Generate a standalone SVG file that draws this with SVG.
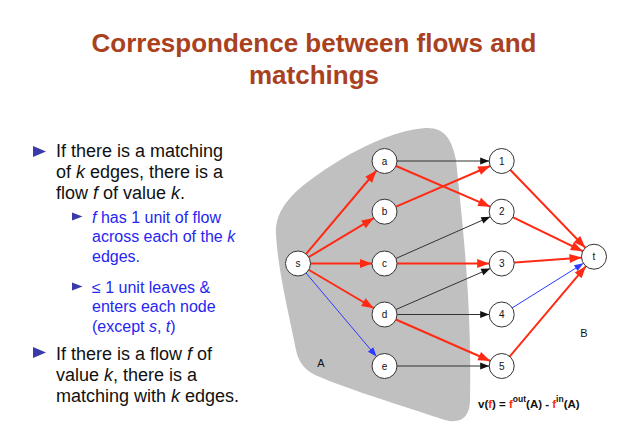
<svg xmlns="http://www.w3.org/2000/svg" width="641" height="448" viewBox="0 0 641 448">
<defs>
<style>
text{font-family:"Liberation Sans",Arial,sans-serif}
.title{font-size:26px;font-weight:bold;fill:#a9411f;text-anchor:middle}
.main{font-size:18px;fill:#111}
.sub{font-size:16px;fill:#2626f0}
.bul{fill:#3a3aa8}
.node circle{fill:#fff;stroke:#333;stroke-width:1}
.node text{font-size:10px;text-anchor:middle;fill:#111}
.red{stroke:#ff2a14;stroke-width:2;fill:none;marker-end:url(#mr)}
.blk{stroke:#333;stroke-width:1;fill:none;marker-end:url(#mk)}
.blu{stroke:#2a3aff;stroke-width:1;fill:none;marker-end:url(#mb)}
.lbl{font-size:11px;fill:#111;text-anchor:middle}
.fm{font-size:11.5px;font-weight:bold;fill:#111}
.rf{fill:#ff2a14}
</style>
<marker id="mr" markerUnits="userSpaceOnUse" markerWidth="13" markerHeight="10" refX="24.5" refY="4.5" orient="auto" overflow="visible"><path d="M0,0 L12,4.5 L0,9 z" fill="#ff2a14"/></marker>
<marker id="mk" markerUnits="userSpaceOnUse" markerWidth="10" markerHeight="8" refX="21.5" refY="3.5" orient="auto" overflow="visible"><path d="M0,0 L9,3.5 L0,7 z" fill="#111"/></marker>
<marker id="mb" markerUnits="userSpaceOnUse" markerWidth="10" markerHeight="8" refX="21.5" refY="3.5" orient="auto" overflow="visible"><path d="M0,0 L9,3.5 L0,7 z" fill="#2a3aff"/></marker>
</defs>
<rect width="641" height="448" fill="#fff"/>
<g id="title">
<text class="title" x="314" y="52">Correspondence between flows and</text>
<text class="title" x="314" y="83.5">matchings</text>
</g>
<g id="bullets">
<path class="bul" d="M33,146 L46,151.5 L33,157 z"/>
<text class="main" x="56" y="157">If there is a matching</text>
<text class="main" x="56" y="178">of <tspan font-style="italic">k</tspan> edges, there is a</text>
<text class="main" x="56" y="199">flow <tspan font-style="italic">f</tspan> of value <tspan font-style="italic">k</tspan>.</text>
<path class="bul" d="M72,212.5 L82.5,216.5 L72,220.5 z"/>
<text class="sub" x="92" y="223"><tspan font-style="italic">f</tspan> has 1 unit of flow</text>
<text class="sub" x="92" y="242">across each of the <tspan font-style="italic">k</tspan></text>
<text class="sub" x="92" y="262">edges.</text>
<path class="bul" d="M72,282.5 L82.5,286.5 L72,290.5 z"/>
<text class="sub" x="92" y="293">≤ 1 unit leaves &amp;</text>
<text class="sub" x="92" y="312">enters each node</text>
<text class="sub" x="92" y="332">(except <tspan font-style="italic">s</tspan>, <tspan font-style="italic">t</tspan>)</text>
<path class="bul" d="M33,347 L46,352.5 L33,358 z"/>
<text class="main" x="56" y="360">If there is a flow <tspan font-style="italic">f</tspan> of</text>
<text class="main" x="56" y="381">value <tspan font-style="italic">k</tspan>, there is a</text>
<text class="main" x="56" y="402">matching with <tspan font-style="italic">k</tspan> edges.</text>
</g>
<g id="regionA">
<path d="M276,235 C274,205 300,185 340,160 C370,142 400,130 425,128 C445,127 452,140 456,160 C462,220 472,300 470,400 C470,418 460,424 445,420 C400,405 350,390 315,375 C303,369 298,360 296,350 C288,310 278,270 276,235 Z" fill="#c0c0c0"/>
<text class="lbl" x="321" y="367">A</text>
<text class="lbl" x="584" y="337">B</text>
</g>
<g id="connectors">
<line class="red" x1="298" y1="263.5" x2="384.5" y2="161"/>
<line class="red" x1="298" y1="263.5" x2="384.5" y2="211.7"/>
<line class="red" x1="298" y1="263.5" x2="384.5" y2="263.5"/>
<line class="red" x1="298" y1="263.5" x2="384.5" y2="314.5"/>
<line class="blu" x1="298" y1="263.5" x2="384.5" y2="366"/>
<line class="blk" x1="384.5" y1="161" x2="501.7" y2="161"/>
<line class="red" x1="384.5" y1="161" x2="501.7" y2="211.7"/>
<line class="red" x1="384.5" y1="211.7" x2="501.7" y2="161"/>
<line class="blk" x1="384.5" y1="263.5" x2="501.7" y2="211.7"/>
<line class="red" x1="384.5" y1="263.5" x2="501.7" y2="263.5"/>
<line class="blk" x1="384.5" y1="314.5" x2="501.7" y2="263.5"/>
<line class="blk" x1="384.5" y1="314.5" x2="501.7" y2="314.5"/>
<line class="red" x1="384.5" y1="314.5" x2="501.7" y2="366"/>
<line class="blk" x1="384.5" y1="366" x2="501.7" y2="366"/>
<line class="red" x1="501.7" y1="161" x2="594" y2="256.7"/>
<line class="red" x1="501.7" y1="211.7" x2="594" y2="256.7"/>
<line class="red" x1="501.7" y1="263.5" x2="594" y2="256.7"/>
<line class="blu" x1="501.7" y1="314.5" x2="594" y2="256.7"/>
<line class="red" x1="501.7" y1="366" x2="594" y2="256.7"/>
</g>
<g id="node-s" class="node"><circle cx="298" cy="263.5" r="12.5"/><text x="298" y="267">s</text></g>
<g id="node-a" class="node"><circle cx="384.5" cy="161" r="12.5"/><text x="384.5" y="164.5">a</text></g>
<g id="node-b" class="node"><circle cx="384.5" cy="211.7" r="12.5"/><text x="384.5" y="215.2">b</text></g>
<g id="node-c" class="node"><circle cx="384.5" cy="263.5" r="12.5"/><text x="384.5" y="267">c</text></g>
<g id="node-d" class="node"><circle cx="384.5" cy="314.5" r="12.5"/><text x="384.5" y="318">d</text></g>
<g id="node-e" class="node"><circle cx="384.5" cy="366" r="12.5"/><text x="384.5" y="369.5">e</text></g>
<g id="node-1" class="node"><circle cx="501.7" cy="161" r="12.5"/><text x="501.7" y="164.5">1</text></g>
<g id="node-2" class="node"><circle cx="501.7" cy="211.7" r="12.5"/><text x="501.7" y="215.2">2</text></g>
<g id="node-3" class="node"><circle cx="501.7" cy="263.5" r="12.5"/><text x="501.7" y="267">3</text></g>
<g id="node-4" class="node"><circle cx="501.7" cy="314.5" r="12.5"/><text x="501.7" y="318">4</text></g>
<g id="node-5" class="node"><circle cx="501.7" cy="366" r="12.5"/><text x="501.7" y="369.5">5</text></g>
<g id="node-t" class="node"><circle cx="594" cy="256.7" r="12.5"/><text x="594" y="260.2">t</text></g>
<g id="formula">
<text class="fm" x="478" y="408">v(<tspan class="rf">f</tspan>) = <tspan class="rf">f</tspan><tspan font-size="8.5px" dy="-6">out</tspan><tspan dy="6">(A) - </tspan><tspan class="rf">f</tspan><tspan font-size="8.5px" dy="-6">in</tspan><tspan dy="6">(A)</tspan></text>
</g>
</svg>
